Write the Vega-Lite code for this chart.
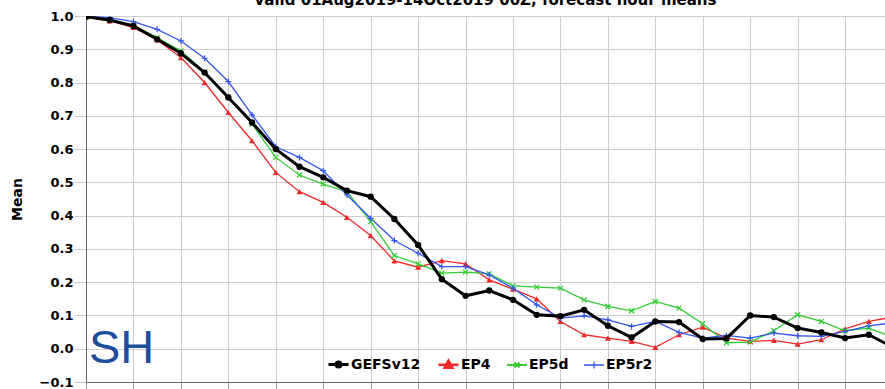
{
  "$schema": "https://vega.github.io/schema/vega-lite/v6.json",
  "width": 799,
  "height": 366,
  "autosize": {"type": "none"},
  "padding": {"left": 86, "top": 16, "right": 0, "bottom": 7},
  "background": "white",
  "title": {"text": "valid 01Aug2019-14Oct2019 00Z, forecast hour means", "font": "DejaVu Sans", "fontSize": 15, "fontWeight": "bold", "color": "black", "anchor": "middle", "frame": "group", "offset": 2},
  "datasets": {
    "d": [
      {"h":0,"s":"GEFSv12","v":0.998},{"h":6,"s":"GEFSv12","v":0.988},{"h":12,"s":"GEFSv12","v":0.970},{"h":18,"s":"GEFSv12","v":0.930},{"h":24,"s":"GEFSv12","v":0.888},{"h":30,"s":"GEFSv12","v":0.830},{"h":36,"s":"GEFSv12","v":0.755},{"h":42,"s":"GEFSv12","v":0.680},{"h":48,"s":"GEFSv12","v":0.600},{"h":54,"s":"GEFSv12","v":0.547},{"h":60,"s":"GEFSv12","v":0.515},{"h":66,"s":"GEFSv12","v":0.475},{"h":72,"s":"GEFSv12","v":0.457},{"h":78,"s":"GEFSv12","v":0.390},{"h":84,"s":"GEFSv12","v":0.312},{"h":90,"s":"GEFSv12","v":0.209},{"h":96,"s":"GEFSv12","v":0.159},{"h":102,"s":"GEFSv12","v":0.175},{"h":108,"s":"GEFSv12","v":0.147},{"h":114,"s":"GEFSv12","v":0.102},{"h":120,"s":"GEFSv12","v":0.098},{"h":126,"s":"GEFSv12","v":0.117},{"h":132,"s":"GEFSv12","v":0.069},{"h":138,"s":"GEFSv12","v":0.034},{"h":144,"s":"GEFSv12","v":0.082},{"h":150,"s":"GEFSv12","v":0.080},{"h":156,"s":"GEFSv12","v":0.029},{"h":162,"s":"GEFSv12","v":0.031},{"h":168,"s":"GEFSv12","v":0.100},{"h":174,"s":"GEFSv12","v":0.095},{"h":180,"s":"GEFSv12","v":0.062},{"h":186,"s":"GEFSv12","v":0.049},{"h":192,"s":"GEFSv12","v":0.032},{"h":198,"s":"GEFSv12","v":0.042},{"h":204,"s":"GEFSv12","v":0.005},
      {"h":0,"s":"EP4","v":0.997},{"h":6,"s":"EP4","v":0.985},{"h":12,"s":"EP4","v":0.966},{"h":18,"s":"EP4","v":0.928},{"h":24,"s":"EP4","v":0.875},{"h":30,"s":"EP4","v":0.800},{"h":36,"s":"EP4","v":0.710},{"h":42,"s":"EP4","v":0.625},{"h":48,"s":"EP4","v":0.530},{"h":54,"s":"EP4","v":0.472},{"h":60,"s":"EP4","v":0.440},{"h":66,"s":"EP4","v":0.395},{"h":72,"s":"EP4","v":0.340},{"h":78,"s":"EP4","v":0.264},{"h":84,"s":"EP4","v":0.245},{"h":90,"s":"EP4","v":0.265},{"h":96,"s":"EP4","v":0.255},{"h":102,"s":"EP4","v":0.207},{"h":108,"s":"EP4","v":0.179},{"h":114,"s":"EP4","v":0.150},{"h":120,"s":"EP4","v":0.082},{"h":126,"s":"EP4","v":0.042},{"h":132,"s":"EP4","v":0.032},{"h":138,"s":"EP4","v":0.022},{"h":144,"s":"EP4","v":0.004},{"h":150,"s":"EP4","v":0.042},{"h":156,"s":"EP4","v":0.065},{"h":162,"s":"EP4","v":0.032},{"h":168,"s":"EP4","v":0.022},{"h":174,"s":"EP4","v":0.025},{"h":180,"s":"EP4","v":0.014},{"h":186,"s":"EP4","v":0.027},{"h":192,"s":"EP4","v":0.060},{"h":198,"s":"EP4","v":0.082},{"h":204,"s":"EP4","v":0.095},
      {"h":0,"s":"EP5d","v":0.998},{"h":6,"s":"EP5d","v":0.990},{"h":12,"s":"EP5d","v":0.972},{"h":18,"s":"EP5d","v":0.935},{"h":24,"s":"EP5d","v":0.895},{"h":30,"s":"EP5d","v":0.832},{"h":36,"s":"EP5d","v":0.757},{"h":42,"s":"EP5d","v":0.675},{"h":48,"s":"EP5d","v":0.575},{"h":54,"s":"EP5d","v":0.522},{"h":60,"s":"EP5d","v":0.495},{"h":66,"s":"EP5d","v":0.472},{"h":72,"s":"EP5d","v":0.382},{"h":78,"s":"EP5d","v":0.280},{"h":84,"s":"EP5d","v":0.255},{"h":90,"s":"EP5d","v":0.227},{"h":96,"s":"EP5d","v":0.230},{"h":102,"s":"EP5d","v":0.225},{"h":108,"s":"EP5d","v":0.189},{"h":114,"s":"EP5d","v":0.185},{"h":120,"s":"EP5d","v":0.182},{"h":126,"s":"EP5d","v":0.147},{"h":132,"s":"EP5d","v":0.127},{"h":138,"s":"EP5d","v":0.114},{"h":144,"s":"EP5d","v":0.142},{"h":150,"s":"EP5d","v":0.122},{"h":156,"s":"EP5d","v":0.075},{"h":162,"s":"EP5d","v":0.018},{"h":168,"s":"EP5d","v":0.020},{"h":174,"s":"EP5d","v":0.054},{"h":180,"s":"EP5d","v":0.102},{"h":186,"s":"EP5d","v":0.082},{"h":192,"s":"EP5d","v":0.054},{"h":198,"s":"EP5d","v":0.062},{"h":204,"s":"EP5d","v":0.035},
      {"h":0,"s":"EP5r2","v":0.999},{"h":6,"s":"EP5r2","v":0.995},{"h":12,"s":"EP5r2","v":0.983},{"h":18,"s":"EP5r2","v":0.960},{"h":24,"s":"EP5r2","v":0.925},{"h":30,"s":"EP5r2","v":0.873},{"h":36,"s":"EP5r2","v":0.803},{"h":42,"s":"EP5r2","v":0.703},{"h":48,"s":"EP5r2","v":0.607},{"h":54,"s":"EP5r2","v":0.575},{"h":60,"s":"EP5r2","v":0.535},{"h":66,"s":"EP5r2","v":0.462},{"h":72,"s":"EP5r2","v":0.392},{"h":78,"s":"EP5r2","v":0.325},{"h":84,"s":"EP5r2","v":0.287},{"h":90,"s":"EP5r2","v":0.247},{"h":96,"s":"EP5r2","v":0.247},{"h":102,"s":"EP5r2","v":0.222},{"h":108,"s":"EP5r2","v":0.182},{"h":114,"s":"EP5r2","v":0.132},{"h":120,"s":"EP5r2","v":0.092},{"h":126,"s":"EP5r2","v":0.099},{"h":132,"s":"EP5r2","v":0.087},{"h":138,"s":"EP5r2","v":0.067},{"h":144,"s":"EP5r2","v":0.082},{"h":150,"s":"EP5r2","v":0.049},{"h":156,"s":"EP5r2","v":0.032},{"h":162,"s":"EP5r2","v":0.040},{"h":168,"s":"EP5r2","v":0.032},{"h":174,"s":"EP5r2","v":0.047},{"h":180,"s":"EP5r2","v":0.039},{"h":186,"s":"EP5r2","v":0.037},{"h":192,"s":"EP5r2","v":0.052},{"h":198,"s":"EP5r2","v":0.069},{"h":204,"s":"EP5r2","v":0.078}
    ]
  },
  "data": {"name": "d"},
  "config": {
    "font": "DejaVu Sans",
    "view": {"stroke": "#666666", "strokeWidth": 1},
    "legend": {"padding": 0, "columnPadding": 12, "labelOffset": 1, "labelFont": "DejaVu Sans", "labelFontSize": 14, "labelFontWeight": "bold", "labelColor": "black", "symbolSize": 400, "symbolOpacity": 1}
  },
  "encoding": {
    "x": {"field": "h", "type": "quantitative", "scale": {"domain": [0, 202.1], "nice": false, "zero": false},
      "axis": {"values": [0,12,24,36,48,60,72,84,96,108,120,132,144,156,168,180,192], "labels": false, "title": null, "grid": true, "gridColor": "#cccccc", "tickSize": 7, "tickColor": "#999999", "domainColor": "#666666"}},
    "y": {"field": "v", "type": "quantitative", "scale": {"domain": [-0.1, 1.0], "nice": false, "zero": false},
      "axis": {"values": [-0.1,0,0.1,0.2,0.3,0.4,0.5,0.6,0.7,0.8,0.9,1.0], "format": ".1f", "title": "Mean", "grid": true, "gridColor": "#cccccc", "labelFont": "DejaVu Sans", "labelFontSize": 13, "labelFontWeight": "bold", "labelColor": "black", "labelPadding": 1, "tickSize": 12, "tickColor": "#cccccc", "domainColor": "#666666", "titleFont": "DejaVu Sans", "titleFontSize": 14, "titleFontWeight": "bold", "titleColor": "black", "titlePadding": 15}}
  },
  "layer": [
    {
      "transform": [{"filter": "datum.h === 0 && datum.s === 'GEFSv12'"}],
      "mark": {"type": "text", "text": "SH", "align": "left", "baseline": "alphabetic", "font": "Liberation Sans", "fontSize": 47, "color": "#1d4d9c"},
      "encoding": {
        "x": {"datum": 0.75, "type": "quantitative"},
        "y": {"datum": -0.043, "type": "quantitative"}
      }
    },
    {
      "transform": [{"filter": "datum.s !== 'GEFSv12'"}],
      "mark": {"type": "line", "strokeWidth": 1.3, "clip": true},
      "encoding": {"color": {"field": "s", "type": "nominal", "scale": {"domain": ["EP4", "EP5d", "EP5r2"], "range": ["#ef2929", "#33cc33", "#3355ee"]}, "legend": null}}
    },
    {
      "transform": [{"filter": {"field": "s", "equal": "EP4"}}],
      "mark": {"type": "point", "shape": "triangle-up", "filled": true, "size": 36, "color": "#ef2929", "opacity": 1, "clip": true}
    },
    {
      "transform": [{"filter": {"field": "s", "equal": "EP5d"}}],
      "mark": {"type": "point", "shape": "M-1,-1L1,1M-1,1L1,-1", "filled": false, "size": 25, "strokeWidth": 1.2, "color": "#33cc33", "opacity": 1, "clip": true}
    },
    {
      "transform": [{"filter": {"field": "s", "equal": "EP5r2"}}],
      "mark": {"type": "point", "shape": "M-1,0L1,0M0,-1L0,1", "filled": false, "size": 36, "strokeWidth": 1.2, "color": "#3355ee", "opacity": 1, "clip": true}
    },
    {
      "transform": [{"filter": {"field": "s", "equal": "GEFSv12"}}],
      "mark": {"type": "line", "strokeWidth": 3, "color": "black", "clip": true}
    },
    {
      "transform": [{"filter": {"field": "s", "equal": "GEFSv12"}}],
      "mark": {"type": "point", "shape": "circle", "filled": true, "size": 40, "color": "black", "opacity": 1, "clip": true}
    },
    {
      "mark": {"type": "point", "filled": true, "opacity": 0, "clip": true},
      "encoding": {
        "shape": {"field": "s", "type": "nominal", "scale": {"domain": ["GEFSv12", "EP4", "EP5d", "EP5r2"], "range": ["M-1,0L1,0M-0.25,0A0.25,0.25 0 1,1 0.25,0A0.25,0.25 0 1,1 -0.25,0Z", "M-1,0L1,0M0,-0.42L0.4,0.3L-0.4,0.3Z", "M-1,0L1,0M-0.25,-0.25L0.25,0.25M-0.25,0.25L0.25,-0.25", "M-1,0L1,0M0,-0.35L0,0.35"]},
          "legend": {"title": null, "orient": "none", "legendX": 241, "legendY": 337, "direction": "horizontal"}},
        "fill": {"field": "s", "type": "nominal", "scale": {"domain": ["GEFSv12", "EP4", "EP5d", "EP5r2"], "range": ["black", "#ef2929", "#33cc33", "#3355ee"]},
          "legend": {"title": null, "orient": "none", "legendX": 241, "legendY": 337, "direction": "horizontal"}},
        "stroke": {"field": "s", "type": "nominal", "scale": {"domain": ["GEFSv12", "EP4", "EP5d", "EP5r2"], "range": ["black", "#ef2929", "#33cc33", "#3355ee"]},
          "legend": {"title": null, "orient": "none", "legendX": 241, "legendY": 337, "direction": "horizontal"}},
        "strokeWidth": {"field": "s", "type": "ordinal", "scale": {"domain": ["GEFSv12", "EP4", "EP5d", "EP5r2"], "range": [3, 1.3, 1.3, 1.3]},
          "legend": {"title": null, "orient": "none", "legendX": 241, "legendY": 337, "direction": "horizontal"}}
      }
    }
  ]
}
